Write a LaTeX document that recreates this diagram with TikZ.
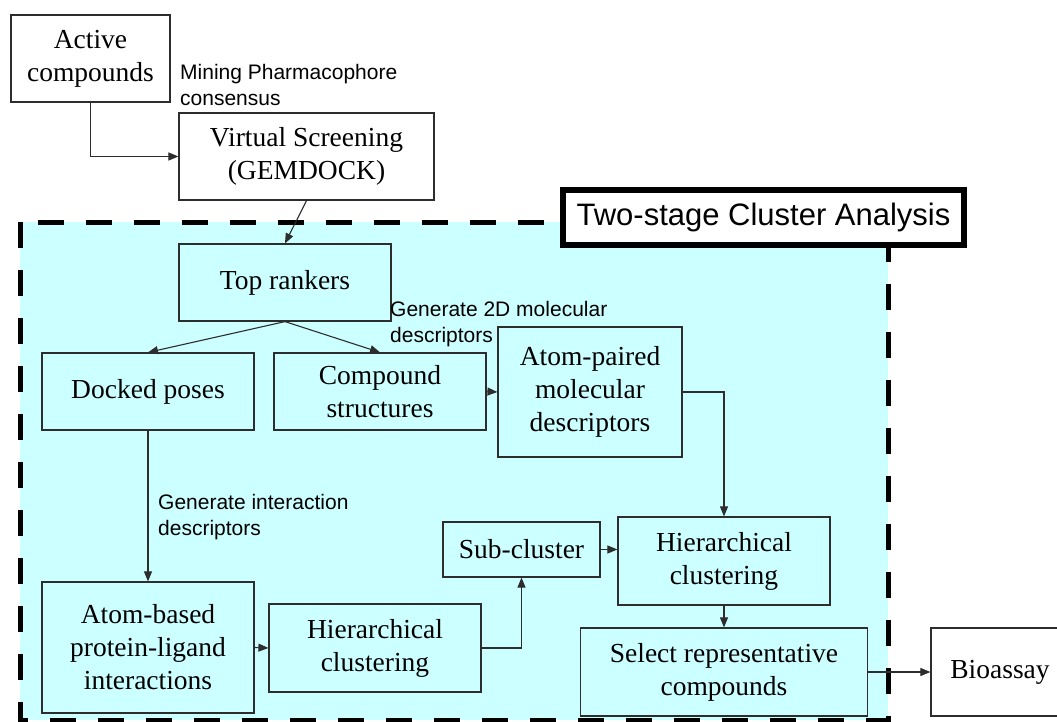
\documentclass[tikz,border=0pt]{standalone}
\usepackage{fontspec}
\setmainfont{Liberation Serif}
\setsansfont{Liberation Sans}
\usetikzlibrary{arrows.meta}
\definecolor{cyanfill}{RGB}{204,255,255}
\definecolor{edgegray}{RGB}{45,45,45}
\begin{document}
\begin{tikzpicture}[x=1pt,y=-1pt,
  box/.style={draw=edgegray, line width=1.2pt, fill=cyanfill, align=center, inner sep=0pt,
              font=\fontsize{27.5}{33}\selectfont},
  wbox/.style={box, fill=white},
  lab/.style={font=\sffamily\fontsize{21}{26}\selectfont, align=left, inner sep=0pt, anchor=west},
  conn/.style={draw=edgegray, line width=1.1pt, -{Triangle[length=10pt,width=8pt]}},
]
\useasboundingbox (0,0) rectangle (1057,722);
\fill[white] (0,0) rectangle (1057,722);
% cluster analysis region
\fill[cyanfill] (20,222) rectangle (888,720);
\draw[line width=5pt, dash pattern=on 26pt off 22pt] (20,222) rectangle (888,720);
\node[draw=black, line width=6pt, fill=white, minimum width=401pt, minimum height=55pt, inner sep=0pt,
      font=\sffamily\fontsize{31}{36}\selectfont] (title) at (763.5,217.5) {Two-stage Cluster Analysis};

% nodes
\node[wbox, minimum width=159pt, minimum height=87pt] (act) at (90.5,58.5) {Active\\compounds};
\node[wbox, minimum width=255pt, minimum height=87pt] (vs) at (306.5,156.5) {Virtual Screening\\(GEMDOCK)};
\node[box, minimum width=212pt, minimum height=77pt] (top) at (285,282.5) {Top rankers};
\node[box, minimum width=212pt, minimum height=77pt] (dock) at (148,391.5) {Docked poses};
\node[box, minimum width=212pt, minimum height=77pt] (comp) at (380,391.5) {Compound\\structures};
\node[box, minimum width=184pt, minimum height=130pt] (apair) at (590,392) {Atom-paired\\molecular\\descriptors};
\node[box, minimum width=212pt, minimum height=131pt] (ablig) at (148,647.5) {Atom-based\\protein-ligand\\interactions};
\node[box, minimum width=212pt, minimum height=88pt] (hierL) at (375,648) {Hierarchical\\clustering};
\node[box, minimum width=157pt, minimum height=55pt] (sub) at (521.5,549.5) {Sub-cluster};
\node[box, minimum width=212pt, minimum height=88pt] (hierR) at (724,561) {Hierarchical\\clustering};
\node[box, minimum width=287pt, minimum height=88pt] (sel) at (724,672) {Select representative\\compounds};
\node[wbox, minimum width=138pt, minimum height=88pt] (bio) at (1000,672) {Bioassay};

% labels
\node[lab] (lmin) at (180,85) {Mining Pharmacophore\\consensus};
\node[lab] (l2d) at (390,324.5) {Generate 2D molecular\\descriptors};
\node[lab] (lint) at (158,517) {Generate interaction\\descriptors};

% connectors
\draw[conn] (act.south) |- (vs.west);
\draw[conn] (vs.south) -- (top.north);
\draw[conn] (top.south) -- (dock.north);
\draw[conn] (top.south) -- (comp.north);
\draw[conn] (comp.east) -- (apair.west);
\draw[conn] (apair.east) -| (hierR.north);
\draw[conn] (dock.south) -- (ablig.north);
\draw[conn] (ablig.east) -- (hierL.west);
\draw[conn] (hierL.east) -| (sub.south);
\draw[conn] (sub.east) -- (sub.east -| hierR.west);
\draw[conn] (hierR.south) -- (sel.north);
\draw[conn] (sel.east) -- (bio.west);
\end{tikzpicture}
\end{document}
